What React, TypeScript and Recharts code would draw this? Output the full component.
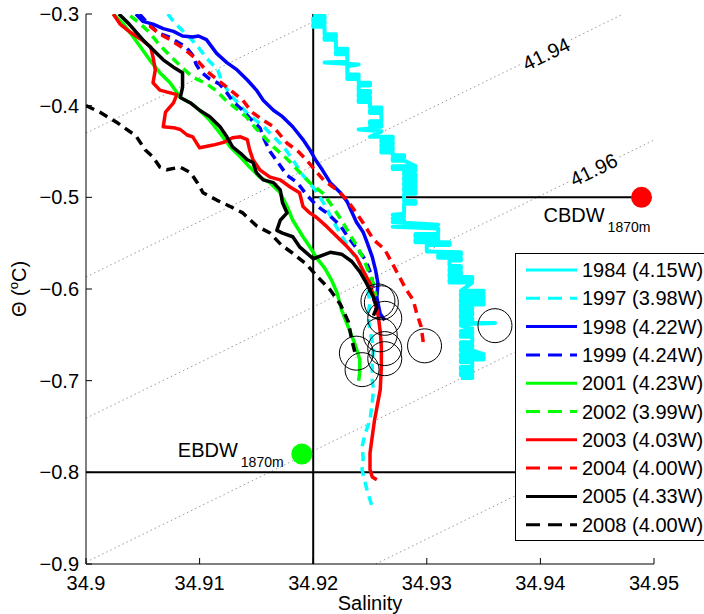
import React from 'react';
import { ComposedChart, Line, XAxis, YAxis, Scatter, ReferenceLine } from 'recharts';

const FONT = '"Liberation Sans", Arial, Helvetica, sans-serif';

// ---- axes ----
const xTicks = [34.9, 34.91, 34.92, 34.93, 34.94, 34.95];
const xTickLabels = ['34.9', '34.91', '34.92', '34.93', '34.94', '34.95'];
const yTicks = [-0.9, -0.8, -0.7, -0.6, -0.5, -0.4, -0.3];
const yTickLabels = ['\u22120.9', '\u22120.8', '\u22120.7', '\u22120.6', '\u22120.5', '\u22120.4', '\u22120.3'];
const xDomain: [number, number] = [34.9, 34.95];
const yDomain: [number, number] = [-0.9, -0.3];

// ---- profiles [salinity, theta] ----
const p1984: [number, number][] = [
  [34.920, -0.302], [34.921, -0.302], [34.921, -0.305], [34.920, -0.305], [34.920, -0.308], [34.921, -0.308],
  [34.921, -0.311], [34.920, -0.311], [34.920, -0.314], [34.921, -0.314],
  [34.921, -0.322], [34.922, -0.322], [34.922, -0.325], [34.921, -0.325], [34.921, -0.328], [34.922, -0.328],
  [34.922, -0.338], [34.923, -0.338], [34.923, -0.341], [34.922, -0.341], [34.922, -0.344], [34.923, -0.344],
  [34.923, -0.352], [34.921, -0.353], [34.924, -0.355], [34.923, -0.357],
  [34.923, -0.366], [34.924, -0.366], [34.924, -0.369], [34.923, -0.369], [34.923, -0.371], [34.924, -0.371],
  [34.924, -0.375], [34.925, -0.375], [34.925, -0.378], [34.924, -0.378],
  [34.924, -0.384], [34.925, -0.384], [34.925, -0.387], [34.924, -0.387], [34.924, -0.390], [34.925, -0.390],
  [34.925, -0.393], [34.924, -0.393], [34.924, -0.396], [34.925, -0.396],
  [34.925, -0.402], [34.926, -0.402], [34.926, -0.405], [34.925, -0.405], [34.925, -0.408], [34.926, -0.408],
  [34.926, -0.417], [34.925, -0.417], [34.925, -0.420], [34.926, -0.420], [34.926, -0.423], [34.925, -0.423],
  [34.925, -0.425], [34.924, -0.426], [34.926, -0.428],
  [34.925, -0.434], [34.927, -0.434], [34.927, -0.437], [34.926, -0.437], [34.926, -0.440], [34.927, -0.440],
  [34.927, -0.442], [34.926, -0.442],
  [34.926, -0.445], [34.927, -0.445], [34.927, -0.448], [34.926, -0.448], [34.926, -0.451], [34.927, -0.451],
  [34.927, -0.454], [34.928, -0.454], [34.928, -0.457], [34.927, -0.457], [34.927, -0.460], [34.928, -0.460],
  [34.929, -0.466], [34.927, -0.466], [34.927, -0.469], [34.929, -0.469], [34.929, -0.471], [34.928, -0.471],
  [34.928, -0.475], [34.929, -0.475], [34.929, -0.478], [34.928, -0.478], [34.928, -0.481], [34.929, -0.481],
  [34.929, -0.484], [34.928, -0.484], [34.928, -0.487], [34.929, -0.487], [34.929, -0.490], [34.928, -0.490],
  [34.928, -0.493], [34.929, -0.493], [34.929, -0.496], [34.928, -0.496],
  [34.928, -0.504], [34.929, -0.504], [34.929, -0.507], [34.928, -0.507],
  [34.928, -0.518],
  [34.927, -0.519], [34.928, -0.521], [34.927, -0.523], [34.928, -0.525], [34.927, -0.527],
  [34.931, -0.530], [34.927, -0.532], [34.931, -0.534],
  [34.931, -0.540], [34.929, -0.540], [34.929, -0.543], [34.931, -0.543], [34.931, -0.546], [34.929, -0.546],
  [34.929, -0.549], [34.932, -0.549], [34.932, -0.552], [34.930, -0.552],
  [34.930, -0.559], [34.933, -0.560], [34.933, -0.563], [34.931, -0.563], [34.931, -0.566], [34.933, -0.566],
  [34.933, -0.569], [34.932, -0.569],
  [34.932, -0.575], [34.933, -0.575], [34.933, -0.578], [34.932, -0.578], [34.932, -0.581], [34.933, -0.581],
  [34.933, -0.584], [34.932, -0.584],
  [34.932, -0.587], [34.934, -0.587], [34.934, -0.590], [34.932, -0.590], [34.932, -0.593], [34.934, -0.593],
  [34.933, -0.602], [34.935, -0.602], [34.935, -0.605], [34.933, -0.605], [34.933, -0.608], [34.935, -0.608],
  [34.935, -0.611], [34.933, -0.611], [34.933, -0.614], [34.935, -0.614], [34.935, -0.617], [34.933, -0.617],
  [34.933, -0.620], [34.934, -0.620],
  [34.934, -0.622], [34.933, -0.622], [34.933, -0.625], [34.934, -0.625], [34.934, -0.628], [34.933, -0.628],
  [34.933, -0.632], [34.934, -0.632], [34.934, -0.635], [34.933, -0.635], [34.933, -0.637], [34.936, -0.637],
  [34.934, -0.638], [34.933, -0.640], [34.934, -0.643],
  [34.933, -0.646], [34.934, -0.646], [34.934, -0.649], [34.933, -0.649], [34.933, -0.652], [34.934, -0.652],
  [34.934, -0.658], [34.933, -0.658], [34.933, -0.661], [34.934, -0.661], [34.934, -0.664], [34.933, -0.664],
  [34.933, -0.667], [34.934, -0.667],
  [34.935, -0.671], [34.933, -0.671], [34.933, -0.674], [34.935, -0.674], [34.935, -0.677], [34.933, -0.677],
  [34.933, -0.680], [34.934, -0.680],
  [34.934, -0.685], [34.933, -0.685], [34.933, -0.688], [34.934, -0.688], [34.934, -0.691], [34.933, -0.691],
  [34.933, -0.694], [34.934, -0.694], [34.934, -0.697], [34.933, -0.697],
];

const p1997: [number, number][] = [
  [34.9072, -0.300], [34.9077, -0.308], [34.9084, -0.317], [34.9093, -0.328], [34.9100, -0.338],
  [34.9106, -0.348], [34.9116, -0.361], [34.9119, -0.372], [34.9127, -0.388], [34.9136, -0.400],
  [34.9144, -0.411], [34.9155, -0.421], [34.9162, -0.430], [34.9171, -0.441], [34.9177, -0.450],
  [34.9182, -0.459], [34.9191, -0.476], [34.9202, -0.492], [34.9210, -0.508], [34.9218, -0.527],
  [34.9226, -0.544], [34.9234, -0.560], [34.9241, -0.572], [34.9247, -0.591], [34.9250, -0.616],
  [34.9248, -0.627], [34.9250, -0.646], [34.9253, -0.663], [34.9252, -0.682], [34.9252, -0.700],
  [34.9253, -0.710], [34.9252, -0.724], [34.9250, -0.743], [34.9246, -0.757], [34.9243, -0.772],
  [34.9244, -0.784], [34.9243, -0.797], [34.9245, -0.808], [34.9248, -0.822], [34.9252, -0.838],
];

const p1998: [number, number][] = [
  [34.9044, -0.300], [34.9050, -0.308], [34.9059, -0.311], [34.9068, -0.316], [34.9077, -0.319],
  [34.9085, -0.324], [34.9094, -0.325], [34.9099, -0.324], [34.9106, -0.328], [34.9115, -0.343],
  [34.9124, -0.353], [34.9133, -0.361], [34.9142, -0.372], [34.9150, -0.383], [34.9156, -0.394],
  [34.9165, -0.405], [34.9173, -0.412], [34.9182, -0.423], [34.9191, -0.437], [34.9197, -0.448],
  [34.9202, -0.459], [34.9208, -0.470], [34.9215, -0.484], [34.9224, -0.495], [34.9230, -0.505],
  [34.9234, -0.516], [34.9238, -0.527], [34.9244, -0.538], [34.9248, -0.551], [34.9252, -0.565],
  [34.9255, -0.580], [34.9257, -0.594], [34.9256, -0.609], [34.9259, -0.627], [34.9263, -0.634],
];

const p1999: [number, number][] = [
  [34.9047, -0.300], [34.9053, -0.308], [34.9064, -0.321], [34.9073, -0.325], [34.9088, -0.336],
  [34.9094, -0.345], [34.9097, -0.355], [34.9101, -0.363], [34.9109, -0.371], [34.9117, -0.376],
  [34.9123, -0.384], [34.9129, -0.395], [34.9138, -0.405], [34.9146, -0.416], [34.9153, -0.424],
  [34.9157, -0.437], [34.9162, -0.450], [34.9169, -0.462], [34.9177, -0.476], [34.9186, -0.484],
  [34.9194, -0.497], [34.9203, -0.509], [34.9212, -0.517], [34.9224, -0.531], [34.9231, -0.544],
  [34.9238, -0.555], [34.9246, -0.568], [34.9251, -0.584], [34.9253, -0.601], [34.9254, -0.616],
  [34.9257, -0.627], [34.9260, -0.635],
];

const p2001: [number, number][] = [
  [34.9024, -0.300], [34.9033, -0.311], [34.9041, -0.324], [34.9048, -0.336], [34.9056, -0.350],
  [34.9065, -0.364], [34.9074, -0.375], [34.9083, -0.391], [34.9092, -0.397], [34.9100, -0.405],
  [34.9109, -0.416], [34.9118, -0.430], [34.9127, -0.445], [34.9136, -0.456], [34.9144, -0.467],
  [34.9153, -0.478], [34.9162, -0.484], [34.9171, -0.495], [34.9177, -0.510], [34.9182, -0.525],
  [34.9191, -0.543], [34.9197, -0.554], [34.9203, -0.566], [34.9210, -0.577], [34.9216, -0.590],
  [34.9221, -0.604], [34.9225, -0.623], [34.9231, -0.642], [34.9237, -0.661], [34.9241, -0.677],
  [34.9241, -0.690], [34.9240, -0.700],
];

const p2002: [number, number][] = [
  [34.9039, -0.302], [34.9048, -0.311], [34.9055, -0.319], [34.9065, -0.334], [34.9076, -0.348],
  [34.9087, -0.361], [34.9094, -0.369], [34.9106, -0.376], [34.9114, -0.383], [34.9123, -0.394],
  [34.9132, -0.403], [34.9141, -0.412], [34.9149, -0.424], [34.9156, -0.433], [34.9165, -0.445],
  [34.9177, -0.458], [34.9186, -0.470], [34.9197, -0.484], [34.9209, -0.496], [34.9217, -0.510],
  [34.9226, -0.527], [34.9232, -0.540], [34.9238, -0.552], [34.9244, -0.566], [34.9248, -0.579],
  [34.9253, -0.594], [34.9255, -0.608],
];

const p2003: [number, number][] = [
  [34.9024, -0.300], [34.9030, -0.311], [34.9039, -0.320], [34.9050, -0.329], [34.9057, -0.336],
  [34.9059, -0.347], [34.9061, -0.361], [34.9059, -0.375], [34.9065, -0.383], [34.9074, -0.386],
  [34.9080, -0.388], [34.9077, -0.397], [34.9070, -0.407], [34.9068, -0.423], [34.9077, -0.424],
  [34.9083, -0.426], [34.9089, -0.432], [34.9094, -0.434], [34.9100, -0.446], [34.9112, -0.443],
  [34.9121, -0.440], [34.9129, -0.435], [34.9136, -0.434], [34.9142, -0.437], [34.9144, -0.448],
  [34.9147, -0.459], [34.9153, -0.470], [34.9162, -0.478], [34.9171, -0.481], [34.9180, -0.489],
  [34.9188, -0.495], [34.9191, -0.510], [34.9197, -0.517], [34.9203, -0.522], [34.9212, -0.532],
  [34.9221, -0.543], [34.9230, -0.554], [34.9238, -0.565], [34.9244, -0.580], [34.9250, -0.594],
  [34.9254, -0.613], [34.9257, -0.627], [34.9259, -0.646], [34.9260, -0.663], [34.9260, -0.685],
  [34.9259, -0.710], [34.9254, -0.743], [34.9252, -0.761], [34.9250, -0.779], [34.9250, -0.797],
  [34.9252, -0.805], [34.9256, -0.808],
];

const p2004: [number, number][] = [
  [34.9056, -0.313], [34.9065, -0.322], [34.9074, -0.328], [34.9084, -0.336], [34.9096, -0.348],
  [34.9107, -0.363], [34.9120, -0.376], [34.9129, -0.385], [34.9138, -0.394], [34.9146, -0.407],
  [34.9156, -0.416], [34.9165, -0.423], [34.9177, -0.441], [34.9186, -0.449], [34.9194, -0.459],
  [34.9200, -0.468], [34.9209, -0.481], [34.9221, -0.492], [34.9230, -0.503], [34.9238, -0.517],
  [34.9244, -0.528], [34.9253, -0.546], [34.9263, -0.557], [34.9270, -0.573], [34.9276, -0.587],
  [34.9282, -0.601], [34.9288, -0.612], [34.9291, -0.626], [34.9295, -0.641], [34.9297, -0.659],
  [34.9296, -0.663],
];

const p2005: [number, number][] = [
  [34.9029, -0.300], [34.9038, -0.311], [34.9050, -0.328], [34.9059, -0.339], [34.9068, -0.350],
  [34.9077, -0.358], [34.9085, -0.364], [34.9085, -0.380], [34.9083, -0.391], [34.9092, -0.397],
  [34.9100, -0.405], [34.9109, -0.412], [34.9118, -0.423], [34.9124, -0.434], [34.9129, -0.445],
  [34.9136, -0.452], [34.9142, -0.459], [34.9147, -0.462], [34.9150, -0.473], [34.9156, -0.481],
  [34.9165, -0.484], [34.9171, -0.492], [34.9173, -0.506], [34.9177, -0.517], [34.9171, -0.525],
  [34.9168, -0.536], [34.9173, -0.539], [34.9182, -0.543], [34.9188, -0.554], [34.9200, -0.567],
  [34.9215, -0.560], [34.9225, -0.562], [34.9234, -0.570], [34.9241, -0.581], [34.9247, -0.594],
  [34.9253, -0.609], [34.9256, -0.620], [34.9253, -0.629],
];

const p2008: [number, number][] = [
  [34.9000, -0.400], [34.9012, -0.407], [34.9028, -0.419], [34.9044, -0.433], [34.9052, -0.448],
  [34.9059, -0.456], [34.9065, -0.467], [34.9071, -0.470], [34.9083, -0.467], [34.9092, -0.473],
  [34.9098, -0.484], [34.9103, -0.495], [34.9115, -0.503], [34.9127, -0.510], [34.9138, -0.517],
  [34.9150, -0.531], [34.9162, -0.539], [34.9172, -0.552], [34.9182, -0.561], [34.9194, -0.573],
  [34.9204, -0.587], [34.9215, -0.601], [34.9224, -0.617], [34.9231, -0.636], [34.9234, -0.656],
  [34.9238, -0.675],
];

// ---- open circles (profile end points) ----
const circlePts: [number, number][] = [
  [34.9257, -0.613], [34.9260, -0.615], [34.9263, -0.632], [34.9259, -0.650], [34.9263, -0.665],
  [34.9238, -0.670], [34.9263, -0.676], [34.9243, -0.688], [34.9298, -0.662], [34.9360, -0.640],
];

// ---- water mass end members ----
const waterMassNames = ['CBDW', 'EBDW'];
const waterMassSub = ['1870m', '1870m'];
const waterMassPts: [number, number][] = [[34.9489, -0.5], [34.919, -0.78]];

// ---- isopycnals ----
const isoLines: [number, number][][] = [
  [[34.9, -0.430], [34.9214, -0.300]],
  [[34.9, -0.587], [34.9473, -0.300]],
  [[34.9, -0.741], [34.95, -0.4375]],
  [[34.9, -0.898], [34.95, -0.5945]],
  [[34.9255, -0.900], [34.95, -0.7515]],
];
const isoLabelText = ['41.94', '41.96'];
const isoLabelPts: [number, number][] = [[34.9405, -0.3436], [34.9447, -0.470]];

// ---- reference lines ----
const refS = 34.92;
const refThetaLow = -0.8;
const refThetaHigh = -0.5;
const refSEnd = 34.9489;

// ---- series table ----
const seriesNames = ['1984 (4.15W)', '1997 (3.98W)', '1998 (4.22W)', '1999 (4.24W)', '2001 (4.23W)',
  '2002 (3.99W)', '2003 (4.03W)', '2004 (4.00W)', '2005 (4.33W)', '2008 (4.00W)'];
const seriesData = [p1984, p1997, p1998, p1999, p2001, p2002, p2003, p2004, p2005, p2008];
const seriesColors = ['#00FFFF', '#00FFFF', '#0000FF', '#0000FF', '#00FF00', '#00FF00', '#FF0000', '#FF0000', '#000000', '#000000'];
const seriesDashed = [false, true, false, true, false, true, false, true, false, true];

const toRows = (pts: [number, number][]) => pts.map(([s, t]) => ({ s, t }));

const BottomTick = (props: any) => {
  const { x, y, index } = props;
  return (
    <g>
      <line x1={x} y1={y} x2={x} y2={y - 6} stroke="#000" strokeWidth={1} />
      <text x={x} y={y + 26} textAnchor="middle" fontSize={20} fontFamily={FONT} fill="#000">
        {xTickLabels[index]}
      </text>
    </g>
  );
};
const TopTick = (props: any) => {
  const { x, y } = props;
  return <line x1={x} y1={y} x2={x} y2={y + 6} stroke="#000" strokeWidth={1} />;
};
const LeftTick = (props: any) => {
  const { x, y, index } = props;
  return (
    <g>
      <line x1={x} y1={y} x2={x + 6} y2={y} stroke="#000" strokeWidth={1} />
      <text x={x - 7} y={y + 7} textAnchor="end" fontSize={20} fontFamily={FONT} fill="#000">
        {yTickLabels[index]}
      </text>
    </g>
  );
};
const RightTick = (props: any) => {
  const { x, y } = props;
  return <line x1={x} y1={y} x2={x - 6} y2={y} stroke="#000" strokeWidth={1} />;
};

const OpenCircle = (props: any) => (
  <circle cx={props.cx} cy={props.cy} r={17} fill="none" stroke="#000" strokeWidth={1} />
);

const WaterMass = (props: any) => {
  const { cx, cy, payload } = props;
  const i = payload.i;
  const color = i === 0 ? '#FF0000' : '#00FF00';
  const tx = i === 0 ? cx - 98 : cx - 124;
  const ty = i === 0 ? cy + 25 : cy + 3;
  return (
    <g>
      <circle cx={cx} cy={cy} r={10.5} fill={color} />
      <text x={tx} y={ty} fontSize={20} fontFamily={FONT} fill="#000">
        {waterMassNames[i]}
        <tspan fontSize={14} dx={3} dy={10}>{waterMassSub[i]}</tspan>
      </text>
    </g>
  );
};

const IsoLabel = (props: any) => {
  const { cx, cy, payload } = props;
  return (
    <g transform={`rotate(-26 ${cx} ${cy})`}>
      <rect x={cx - 27} y={cy - 11} width={54} height={22} fill="#fff" />
      <text x={cx} y={cy + 7} textAnchor="middle" fontSize={20} fontFamily={FONT} fill="#000">
        {isoLabelText[payload.i]}
      </text>
    </g>
  );
};

const XLabel = (props: any) => {
  const vb = props.viewBox;
  return (
    <text x={vb.x + vb.width / 2} y={vb.y + 46} textAnchor="middle" fontSize={20} fontFamily={FONT} fill="#000">
      Salinity
    </text>
  );
};
const YLabel = (props: any) => {
  const vb = props.viewBox;
  const cx = 26;
  const cy = vb.y + vb.height / 2;
  return (
    <text x={cx} y={cy} transform={`rotate(-90 ${cx} ${cy})`} textAnchor="middle" fontSize={20} fontFamily={FONT} fill="#000">
      {'\u0398 ('}
      <tspan fontSize={13} dy={-8}>o</tspan>
      <tspan dy={8}>C)</tspan>
    </text>
  );
};

const Legend = () => {
  const rowH = 28.3;
  return (
    <svg style={{ position: 'absolute', left: 515, top: 253 }} width={230} height={288}>
      <rect x={0.5} y={0.5} width={229} height={287} fill="#fff" stroke="#000" strokeWidth={1} />
      {seriesNames.map((name, i) => {
        const cy = 17 + i * rowH;
        return (
          <g key={name}>
            <line x1={11} x2={62} y1={cy} y2={cy} stroke={seriesColors[i]} strokeWidth={3}
              strokeDasharray={seriesDashed[i] ? '14 8' : undefined} />
            <text x={67} y={cy + 7} fontSize={20} fontFamily={FONT} fill="#000">{name}</text>
          </g>
        );
      })}
    </svg>
  );
};

export default function App() {
  return (
    <div style={{ position: 'fixed', left: 0, top: 0, width: 704, height: 614, overflow: 'hidden', background: '#fff' }}>
      <ComposedChart width={704} height={614} margin={{ top: 14, right: 50, bottom: 0, left: 0 }}>
        <XAxis dataKey="s" type="number" domain={xDomain} ticks={xTicks} interval={0} height={50}
          tickSize={0} tickMargin={0} tickLine={false} axisLine={{ stroke: '#000', strokeWidth: 1 }}
          tick={<BottomTick />} label={<XLabel />} allowDataOverflow />
        <XAxis xAxisId="top" orientation="top" dataKey="s" type="number" domain={xDomain} ticks={xTicks}
          interval={0} height={0} tickSize={0} tickMargin={0} tickLine={false}
          axisLine={{ stroke: '#000', strokeWidth: 1 }} tick={<TopTick />} allowDataOverflow />
        <YAxis dataKey="t" type="number" domain={yDomain} ticks={yTicks} interval={0} width={86}
          tickSize={0} tickMargin={0} tickLine={false} axisLine={{ stroke: '#000', strokeWidth: 1 }}
          tick={<LeftTick />} label={<YLabel />} allowDataOverflow />
        <YAxis yAxisId="right" orientation="right" dataKey="t" type="number" domain={yDomain} ticks={yTicks}
          interval={0} width={0} tickSize={0} tickMargin={0} tickLine={false}
          axisLine={{ stroke: '#000', strokeWidth: 1 }} tick={<RightTick />} allowDataOverflow />

        {isoLines.map((pts, i) => (
          <Line key={`iso${i}`} data={toRows(pts)} dataKey="t" type="linear" stroke="#999" strokeWidth={1}
            strokeDasharray="1.5 3" dot={false} activeDot={false} isAnimationActive={false} />
        ))}

        <ReferenceLine x={refS} stroke="#000" strokeWidth={2} />
        <ReferenceLine y={refThetaLow} stroke="#000" strokeWidth={2} />
        <ReferenceLine segment={[{ x: refS, y: refThetaHigh }, { x: refSEnd, y: refThetaHigh }]} stroke="#000" strokeWidth={2} />

        {seriesData.map((pts, i) => (
          <Line key={seriesNames[i]} data={toRows(pts)} dataKey="t" type="linear" stroke={seriesColors[i]}
            strokeWidth={i === 0 ? 4 : 3.5} strokeDasharray={seriesDashed[i] ? '9 6' : undefined}
            strokeLinejoin="round" dot={false} activeDot={false} isAnimationActive={false} />
        ))}

        <Scatter data={toRows(circlePts)} dataKey="t" shape={<OpenCircle />} isAnimationActive={false} />
        <Scatter data={isoLabelPts.map(([s, t], i) => ({ s, t, i }))} dataKey="t" shape={<IsoLabel />} isAnimationActive={false} />
        <Scatter data={waterMassPts.map(([s, t], i) => ({ s, t, i }))} dataKey="t" shape={<WaterMass />} isAnimationActive={false} />
      </ComposedChart>
      <Legend />
    </div>
  );
}
